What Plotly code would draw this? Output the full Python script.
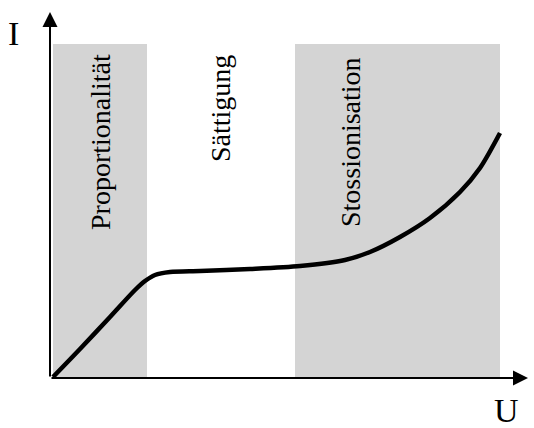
import plotly.graph_objects as go

# Kennlinie eines Zählrohrs: Strom I über Spannung U (willkürliche Einheiten)
u = [3, 30, 60, 85, 95, 105, 120, 150, 200, 250, 295, 320, 350, 380, 410, 430, 450]
i = [1, 29, 61, 88, 97, 103, 106, 107, 109, 112, 118, 126, 141, 160, 186, 210, 245]

# Bereiche (U-Grenzen) und Beschriftungen
bereiche = [(3, 97), (245, 450)]
labels = ["Proportionalität", "Sättigung", "Stossionisation"]
label_u = [50, 170, 300]
label_i = [236, 269, 236]
bereich_top = 334

FONT = "Liberation Serif, Times New Roman, serif"

fig = go.Figure()

for x0, x1 in bereiche:
    fig.add_shape(type="rect", x0=x0, x1=x1, y0=0, y1=bereich_top,
                  fillcolor="#d4d4d4", line_width=0, layer="below")

fig.add_trace(go.Scatter(x=u, y=i, mode="lines",
                         line=dict(color="black", width=4.5, shape="spline", smoothing=0.8),
                         hoverinfo="skip"))

for txt, x, y in zip(labels, label_u, label_i):
    fig.add_annotation(x=x, y=y, text=txt, textangle=-90, showarrow=False,
                       xanchor="center", yanchor="middle",
                       font=dict(family=FONT, size=28, color="black"))

# Achsen mit Pfeilen
fig.add_annotation(x=0, y=366, ax=0, ay=0, xref="x", yref="y", axref="x", ayref="y",
                   text="", showarrow=True, arrowhead=2, arrowsize=1.5,
                   arrowwidth=2, arrowcolor="black")
fig.add_annotation(x=478, y=0, ax=0, ay=0, xref="x", yref="y", axref="x", ayref="y",
                   text="", showarrow=True, arrowhead=2, arrowsize=1.5,
                   arrowwidth=2, arrowcolor="black")
fig.add_annotation(x=13, y=34, xref="paper", yref="paper", text="I", showarrow=False,
                   xanchor="center", yanchor="middle",
                   font=dict(family=FONT, size=34, color="black"))
fig.add_annotation(x=506, y=410, xref="paper", yref="paper", text="U", showarrow=False,
                   xanchor="center", yanchor="middle",
                   font=dict(family=FONT, size=34, color="black"))

# Beschriftungspositionen in Pixeln -> paper-Koordinaten
W, H, L, R, T, B = 534, 428, 50, 4, 10, 50
for ann in fig.layout.annotations:
    if ann.xref == "paper":
        ann.x = (ann.x - L) / (W - L - R)
        ann.y = (H - B - ann.y) / (H - T - B)

fig.update_layout(
    width=W, height=H,
    margin=dict(l=L, r=R, t=T, b=B),
    paper_bgcolor="white", plot_bgcolor="white",
    showlegend=False,
    xaxis=dict(range=[0, 480], visible=False, fixedrange=True),
    yaxis=dict(range=[0, 368], visible=False, fixedrange=True),
)

fig.write_html("out.html", config={"displayModeBar": False},
               post_script="document.body.style.margin='0';")
